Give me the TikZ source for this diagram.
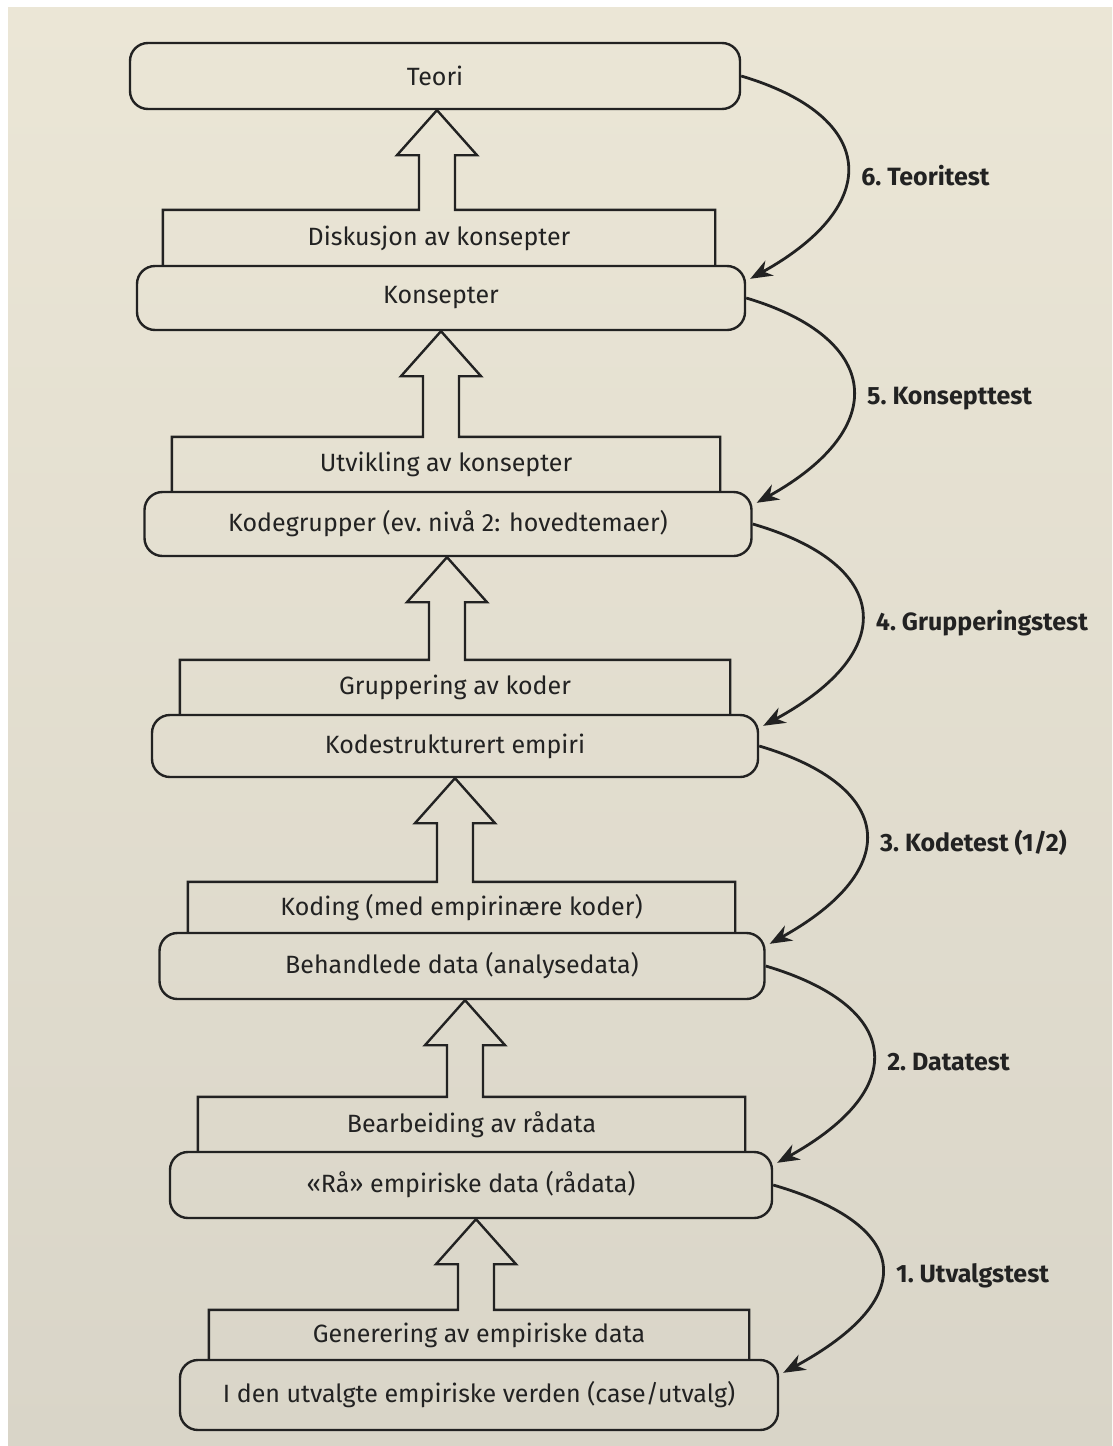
\documentclass[tikz,border=0pt]{standalone}
\usepackage{fontspec}
\setmainfont{Fira Sans}
\usetikzlibrary{arrows.meta,calc}
\definecolor{paperhigh}{HTML}{EBE6D6}
\definecolor{paperlow}{HTML}{D9D5C8}
\definecolor{ink}{HTML}{222222}
\begin{document}
\begin{tikzpicture}[x=1pt,y=-1pt,
	level/.style={draw=ink, line width=2.4pt, rounded corners=18pt, text=ink, inner sep=0pt, font=\fontsize{25pt}{29pt}\selectfont},
	work/.style={text=ink, inner sep=0pt, font=\fontsize{25pt}{29pt}\selectfont},
	outline/.style={draw=ink, line width=2.4pt},
	testarrow/.style={draw=ink, line width=2.8pt, -{Stealth[length=22pt,width=17pt,inset=7pt]}},
	testlabel/.style={right=10pt, text=ink, font=\fontsize{25pt}{29pt}\selectfont\bfseries}]
	\useasboundingbox (0,0) rectangle (1112,1446);
	\fill[white] (0,0) rectangle (1112,1446);
	\shade[top color=paperhigh, bottom color=paperlow] (8,7) rectangle (1112,1446);
	% levels
	\node (R7) at (435,76)   [level, minimum width=610pt, minimum height=66pt] {Teori};
	\node (R6) at (441,298)  [level, minimum width=608pt, minimum height=64pt] {Konsepter};
	\node (R5) at (448,524)  [level, minimum width=607pt, minimum height=64pt] {Kodegrupper (ev.\ nivå 2: hovedtemaer)};
	\node (R4) at (455,746)  [level, minimum width=606pt, minimum height=62pt] {Kodestrukturert empiri};
	\node (R3) at (462,966)  [level, minimum width=605pt, minimum height=66pt] {Behandlede data (analysedata)};
	\node (R2) at (471,1185) [level, minimum width=602pt, minimum height=66pt] {«Rå» empiriske data (rådata)};
	\node (R1) at (479,1395) [level, minimum width=598pt, minimum height=70pt] {I den utvalgte empiriske verden (case/utvalg)};
	% work steps
	\node (P6) at (439,238)    [work, minimum width=552pt, minimum height=56pt] {Diskusjon av konsepter};
	\node (P5) at (446,464.5)  [work, minimum width=548pt, minimum height=55pt] {Utvikling av konsepter};
	\node (P4) at (455,687.5)  [work, minimum width=550pt, minimum height=55pt] {Gruppering av koder};
	\node (P3) at (461.5,907.5)[work, minimum width=547pt, minimum height=51pt] {Koding (med empirinære koder)};
	\node (P2) at (471.5,1124.5)[work, minimum width=547pt, minimum height=55pt] {Bearbeiding av rådata};
	\node (P1) at (479,1335)   [work, minimum width=540pt, minimum height=50pt] {Generering av empiriske data};
	% step boxes with block arrows
	\foreach \lo/\up/\ax in {P6/R7/437, P5/R6/441, P4/R5/447, P3/R4/455, P2/R3/465, P1/R2/476}
		\draw[outline] (\lo.south west) -- (\lo.north west) -- ({\ax-18},0 |- \lo.north)
			-- ($({\ax-18},0 |- \up.south)+(0,45)$) -- ($({\ax-40},0 |- \up.south)+(0,45)$)
			-- (\ax,0 |- \up.south)
			-- ($({\ax+40},0 |- \up.south)+(0,45)$) -- ($({\ax+18},0 |- \up.south)+(0,45)$)
			-- ({\ax+18},0 |- \lo.north) -- (\lo.north east) -- (\lo.south east);
	% tests
	\draw[testarrow] (R7.east) .. controls +(135,40) and +(135,-75) .. ([xshift=4pt,yshift=-14pt]R6.north east) node[testlabel, pos=.55] {6.\ Teoritest};
	\draw[testarrow] (R6.east) .. controls +(135,40) and +(135,-75) .. ([xshift=4pt,yshift=-12pt]R5.north east) node[testlabel, pos=.55] {5.\ Konsepttest};
	\draw[testarrow] (R5.east) .. controls +(138,40) and +(138,-75) .. ([xshift=4pt,yshift=-12pt]R4.north east) node[testlabel, pos=.55] {4.\ Grupperingstest};
	\draw[testarrow] (R4.east) .. controls +(135,40) and +(135,-75) .. ([xshift=4pt,yshift=-12pt]R3.north east) node[testlabel, pos=.55] {3.\ Kodetest (1/2)};
	\draw[testarrow] (R3.east) .. controls +(135,40) and +(135,-75) .. ([xshift=4pt,yshift=-12pt]R2.north east) node[testlabel, pos=.55] {2.\ Datatest};
	\draw[testarrow] (R2.east) .. controls +(138,40) and +(138,-75) .. ([xshift=4pt,yshift=-14pt]R1.north east) node[testlabel, pos=.55] {1.\ Utvalgstest};
\end{tikzpicture}
\end{document}
